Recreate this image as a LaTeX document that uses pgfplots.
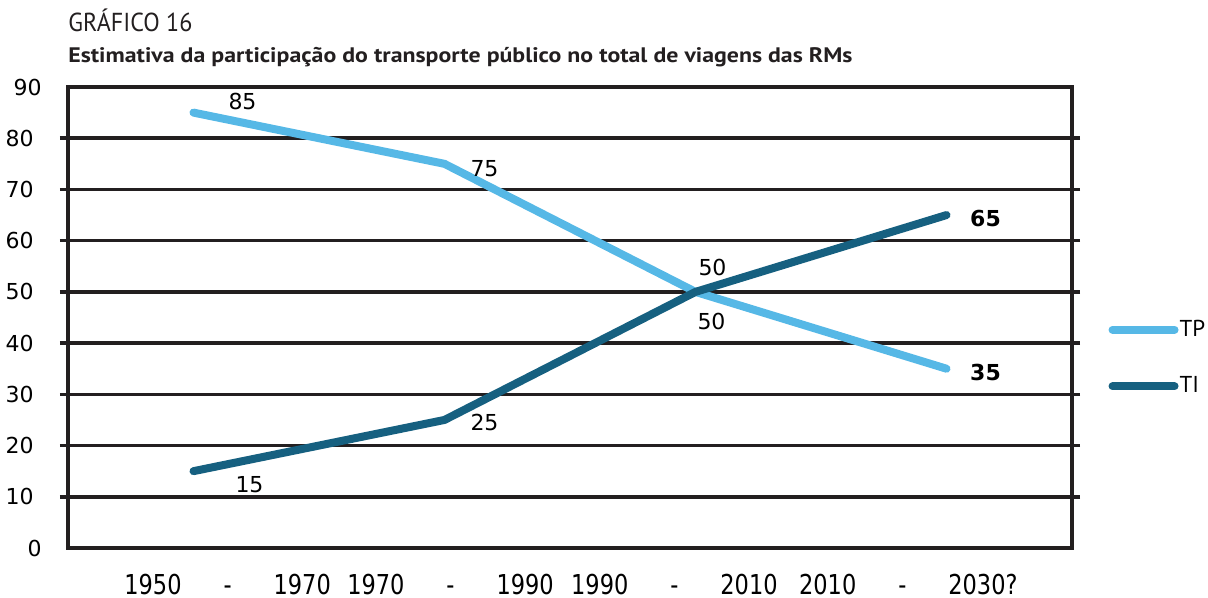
\documentclass[border=0pt]{standalone}
\usepackage{fontspec}
\usepackage{pgfplots}
\pgfplotsset{compat=1.18}
\setmainfont{DejaVu Sans}
\newfontfamily\titlefont{PT Sans}
\newfontfamily\xfont[FakeStretch=0.82]{DejaVu Sans}
\definecolor{tpblue}{RGB}{86,184,230}
\definecolor{tiblue}{RGB}{22,96,128}
\definecolor{framec}{RGB}{35,31,32}

\pgfplotstableread{
x y
0 85
1 75
2 50
3 35
}\tp
\pgfplotstableread{
x y
0 15
1 25
2 50
3 65
}\ti

\newcommand{\gap}{\hspace{21pt}}

\begin{document}
\begin{tikzpicture}
% page = axis box plus the margins of the reference
\useasboundingbox (-34pt,-25pt) rectangle (570pt,274pt);
\begin{axis}[
  name=ax, at={(0,0)}, anchor=south west,
  width=502pt, height=230.5pt, scale only axis,
  xmin=-0.5, xmax=3.5, ymin=0, ymax=90,
  ytick={10,20,...,80},
  extra y ticks={0,90},
  extra y tick style={major tick length=0pt},
  ymajorgrids,
  tick align=outside,
  major tick length=4pt,
  ytick style={line width=1.8pt, color=framec},
  major grid style={line width=1.8pt, color=framec},
  axis line style={line width=1.8pt, color=framec},
  xtick={0.136,1.024,1.916,2.848},
  xticklabels={1950\gap-\gap1970, 1970\gap-\gap1990, 1990\gap-\gap2010, 2010\gap-\gap2030?},
  xtick style={draw=none},
  /pgf/number format/assume math mode=true,
  yticklabel style={font=\fontsize{11}{13}\selectfont, anchor=east, inner sep=0pt, xshift=-13pt},
  xticklabel style={font=\xfont\fontsize{13.7}{15}\selectfont, anchor=base, inner sep=0pt, yshift=-19pt},
  legend style={draw=none, fill=none, at={(1.036,0.4974)}, anchor=north west,
    font=\titlefont\fontsize{11.5}{14}\selectfont, row sep=17.7pt, inner sep=0pt,
    nodes={inner sep=0.5pt}},
  legend cell align=left,
  legend image code/.code={\draw[#1] (0pt,0pt) -- (31pt,0pt);},
  every axis plot/.append style={line width=4pt, line cap=round, line join=round},
]
\addplot[tpblue] table[x=x, y=y] {\tp};
\addplot[tiblue] table[x=x, y=y] {\ti};
\legend{TP,TI}
\tikzset{lbl/.style={font=\fontsize{11}{13}\selectfont, inner sep=0pt}}
\node[lbl] at (axis cs:0,85) [xshift=24.5pt, yshift=5.5pt] {85};
\node[lbl] at (axis cs:1,75) [xshift=20pt, yshift=-2.5pt] {75};
\node[lbl] at (axis cs:2,50) [xshift=8pt, yshift=-15pt] {50};
\node[lbl] at (axis cs:2,50) [xshift=8.5pt, yshift=12pt] {50};
\node[lbl, font=\bfseries\fontsize{11}{13}\selectfont] at (axis cs:3,35) [xshift=19.5pt, yshift=-2pt] {35};
\node[lbl, font=\bfseries\fontsize{11}{13}\selectfont] at (axis cs:3,65) [xshift=19.5pt, yshift=-1.5pt] {65};
\node[lbl] at (axis cs:0,15) [xshift=28pt, yshift=-6.5pt] {15};
\node[lbl] at (axis cs:1,25) [xshift=20pt, yshift=-1.5pt] {25};
\end{axis}
\node[anchor=base west, inner sep=0pt, text=framec, font=\titlefont\fontsize{13}{15}\selectfont]
  at ([yshift=28pt]ax.north west) {\resizebox{62pt}{\height}{GRÁFICO 16}};
\node[anchor=base west, inner sep=0pt, text=framec, font=\titlefont\bfseries\fontsize{10.5}{13}\selectfont]
  at ([yshift=12.5pt]ax.north west) {\resizebox{392pt}{\height}{Estimativa da participação do transporte público no total de viagens das RMs}};
\end{tikzpicture}
\end{document}
